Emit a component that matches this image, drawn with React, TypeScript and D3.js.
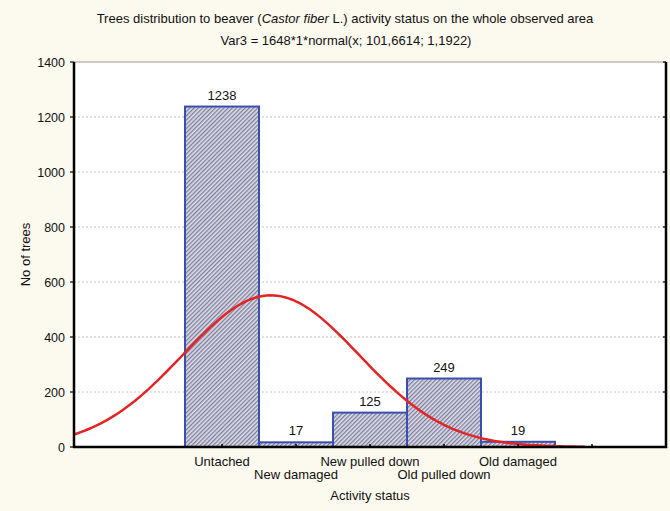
import * as d3 from "d3";
import { useEffect, useRef } from "react";

const categories = ["Untached", "New damaged", "New pulled down", "Old pulled down", "Old damaged"];
const codes = [101, 102, 103, 104, 105];
const counts = [1238, 17, 125, 249, 19];
const yTicks = [0, 200, 400, 600, 800, 1000, 1200, 1400];
const xTickCodes = [101, 102, 103, 104, 105, 106];

// fitted curve parameters, from the subtitle
const fitN = 1648;
const fitMean = 101.6614;
const fitSd = 1.1922;

const W = 670;
const H = 511;
const margin = { top: 62, right: 4, bottom: 64, left: 74 };

export default function App() {
  const ref = useRef<SVGSVGElement>(null);

  useEffect(() => {
    document.body.style.margin = "0";
    const svg = d3.select(ref.current);
    svg.selectAll("*").remove();

    const x = d3.scaleLinear().domain([99, 107]).range([margin.left, W - margin.right]);
    const y = d3.scaleLinear().domain([0, 1400]).range([H - margin.bottom, margin.top]);
    const bw = x(1) - x(0);

    svg.append("rect").attr("width", W).attr("height", H).attr("fill", "#fcf9ee");

    const defs = svg.append("defs");
    const pat = defs
      .append("pattern")
      .attr("id", "hatch")
      .attr("patternUnits", "userSpaceOnUse")
      .attr("width", 3)
      .attr("height", 3)
      .attr("patternTransform", "rotate(45)");
    pat.append("rect").attr("width", 3).attr("height", 3).attr("fill", "#dedee9");
    pat.append("rect").attr("width", 1.3).attr("height", 3).attr("fill", "#7c7c9c");

    const font = "Arial, 'Liberation Sans', sans-serif";
    const g = svg.append("g").attr("font-family", font).attr("font-size", 13).attr("fill", "#111");

    // plot area
    g.append("rect")
      .attr("x", margin.left)
      .attr("y", margin.top)
      .attr("width", W - margin.left - margin.right)
      .attr("height", H - margin.top - margin.bottom)
      .attr("fill", "#fff");

    // grid
    g.append("g")
      .selectAll("line")
      .data(yTicks.slice(1, -1))
      .join("line")
      .attr("x1", margin.left)
      .attr("x2", W - margin.right)
      .attr("y1", (d) => y(d))
      .attr("y2", (d) => y(d))
      .attr("stroke", "#c4c4c4")
      .attr("stroke-dasharray", "2,2");

    // bars
    g.append("g")
      .selectAll("rect")
      .data(counts)
      .join("rect")
      .attr("x", (d, i) => x(codes[i]) - bw / 2)
      .attr("y", (d) => y(d))
      .attr("width", bw)
      .attr("height", (d) => y(0) - y(d))
      .attr("fill", "url(#hatch)")
      .attr("stroke", "#3a4fae")
      .attr("stroke-width", 2);

    g.append("g")
      .selectAll("text")
      .data(counts)
      .join("text")
      .attr("x", (d, i) => x(codes[i]))
      .attr("y", (d) => y(d) - 7)
      .attr("text-anchor", "middle")
      .text((d) => d);

    // normal curve
    const pts = d3.range(99, 105.9, 0.05).map((v) => {
      const z = (v - fitMean) / fitSd;
      return [v, (fitN / (fitSd * Math.sqrt(2 * Math.PI))) * Math.exp(-0.5 * z * z)];
    });
    g.append("path")
      .datum(pts)
      .attr("fill", "none")
      .attr("stroke", "#e32424")
      .attr("stroke-width", 2.5)
      .attr(
        "d",
        d3
          .line<number[]>()
          .x((d) => x(d[0]))
          .y((d) => y(d[1]))
      );

    // frame
    g.append("line")
      .attr("x1", margin.left)
      .attr("x2", W - margin.right)
      .attr("y1", margin.top)
      .attr("y2", margin.top)
      .attr("stroke", "#999");
    const black = (x1: number, y1: number, x2: number, y2: number, w = 2.5) =>
      g.append("line").attr("x1", x1).attr("y1", y1).attr("x2", x2).attr("y2", y2).attr("stroke", "#000").attr("stroke-width", w);
    black(margin.left, margin.top, margin.left, y(0) + 1);
    black(W - margin.right, margin.top, W - margin.right, y(0) + 1);
    black(margin.left - 1, y(0), W - margin.right + 1, y(0));

    // y axis ticks + labels
    yTicks.forEach((t) => {
      black(margin.left - 4, y(t), margin.left, y(t), 1.2);
      black(W - margin.right - 3, y(t), W - margin.right, y(t), 1.2);
    });
    g.append("g")
      .selectAll("text")
      .data(yTicks)
      .join("text")
      .attr("x", margin.left - 9)
      .attr("y", (d) => y(d) + 4.5)
      .attr("text-anchor", "end")
      .attr("font-size", 12.5)
      .text((d) => d);

    xTickCodes.forEach((c) => black(x(c), y(0) - 3, x(c), y(0), 1.5));

    g.append("g")
      .selectAll("text")
      .data(categories)
      .join("text")
      .attr("x", (d, i) => x(codes[i]))
      .attr("y", (d, i) => (i % 2 === 0 ? 466 : 479))
      .attr("text-anchor", "middle")
      .text((d) => d);

    g.append("text").attr("x", x(103)).attr("y", 500).attr("text-anchor", "middle").text("Activity status");
    g.append("text")
      .attr("transform", `translate(30,${(margin.top + y(0)) / 2}) rotate(-90)`)
      .attr("text-anchor", "middle")
      .text("No of trees");

    const t1 = g.append("text").attr("x", 345).attr("y", 23).attr("text-anchor", "middle");
    t1.append("tspan").text("Trees distribution to beaver (");
    t1.append("tspan").attr("font-style", "italic").text("Castor fiber");
    t1.append("tspan").text(" L.) activity status on the whole observed area");
    g.append("text")
      .attr("x", 346)
      .attr("y", 45)
      .attr("text-anchor", "middle")
      .text(`Var3 = ${fitN}*1*normal(x; ${String(fitMean).replace(".", ",")}; ${String(fitSd).replace(".", ",")})`);
  }, []);

  return <svg ref={ref} width={W} height={H} style={{ display: "block" }} />;
}
